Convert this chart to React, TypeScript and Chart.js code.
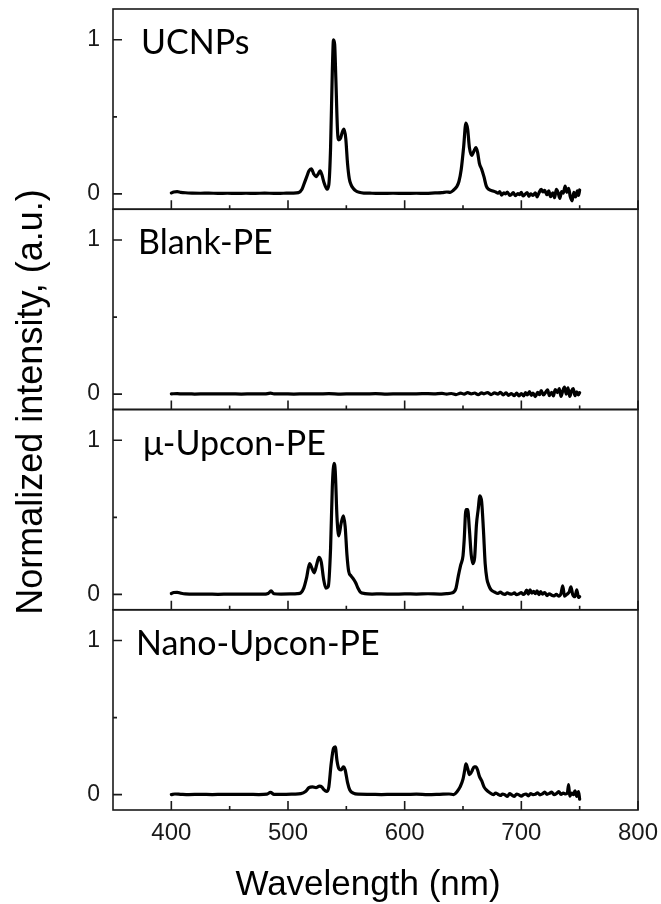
import React, { useEffect, useRef } from "react";
import { Chart, registerables } from "chart.js";

Chart.register(...registerables);

// ---------- data ----------
const panelNames = ["UCNPs", "Blank-PE", "μ-Upcon-PE", "Nano-Upcon-PE"];
const xMajorTicks = [400, 500, 600, 700, 800];
const xMinorTicks = [450, 550, 650, 750];
const yMajorTicks = [0, 1];
const yMinorTicks = [0.5];
const xTitle = "Wavelength (nm)";
const yTitle = "Normalized intensity, (a.u.)";

const ucnps: [number, number][] = [
  [400, 0.006], [402, 0.012], [405, 0.014], [408, 0.01], [412, 0.007], [418, 0.005], [425, 0.004],
  [432, 0.005], [440, 0.003], [448, 0.004], [456, 0.003], [464, 0.004], [472, 0.003], [480, 0.005],
  [488, 0.003], [496, 0.004], [504, 0.005], [509, 0.008], [512, 0.03], [514, 0.07], [516, 0.11],
  [518, 0.15], [520, 0.162], [522, 0.13], [524, 0.112], [526, 0.13], [527.5, 0.15], [529, 0.125],
  [531, 0.07], [533.5, 0.03], [535, 0.06], [536.5, 0.3], [538, 0.8], [539, 1.0], [540, 0.97],
  [541, 0.75], [542.5, 0.4], [543.5, 0.35], [545, 0.36], [546.5, 0.4], [548, 0.42], [549.5, 0.36],
  [551, 0.2], [552.5, 0.1], [554, 0.06], [556, 0.035], [558, 0.02], [561, 0.01], [565, 0.005],
  [572, 0.004], [580, 0.003], [590, 0.004], [600, 0.003], [610, 0.004], [618, 0.003], [626, 0.006],
  [632, 0.008], [636, 0.012], [639, 0.01], [642, 0.025], [644.5, 0.045], [646.5, 0.08], [648.5, 0.16],
  [650.5, 0.3], [652.5, 0.46], [654, 0.42], [655.5, 0.3], [657.5, 0.25], [659.5, 0.28], [661, 0.3],
  [662.5, 0.27], [664, 0.2], [666, 0.16], [668, 0.11], [670, 0.05], [672, 0.03], [675, 0.02],
  [678, 0.012], [680, 0.004], [681.5, 0.015], [683, -0.008], [685, 0.006], [686.5, 0.0], [688, 0.012],
  [690, -0.01], [691.5, -0.004], [693, 0.008], [695, -0.012], [697, 0.002], [698.5, -0.006], [700, 0.01],
  [701.5, -0.014], [703, -0.004], [705, 0.008], [706.5, -0.016], [708, 0.0], [710, -0.01], [712, 0.006],
  [713.5, -0.02], [715, 0.004], [717, 0.03], [718.5, 0.012], [720, 0.022], [722, -0.006], [723.5, 0.02],
  [725, -0.018], [727, 0.006], [728.5, -0.025], [730, 0.03], [731.5, 0.008], [733, -0.03], [734.5, 0.015],
  [736, 0.005], [737.5, 0.05], [739, 0.01], [740.5, 0.035], [742, -0.02], [743.5, -0.045], [745, 0.01],
  [746.5, -0.02], [748, 0.02], [749, -0.01], [750, 0.025],
];

const blankPE: [number, number][] = [
  [400, 0.002], [405, 0.003], [410, 0.001], [415, 0.002], [420, 0.0], [430, 0.002], [440, 0.001],
  [450, 0.002], [460, 0.0], [470, 0.002], [480, 0.001], [485, 0.006], [488, 0.001], [495, 0.002],
  [505, 0.0], [515, 0.002], [525, 0.001], [535, 0.003], [545, 0.0], [555, 0.002], [565, 0.001],
  [575, 0.003], [585, 0.0], [595, 0.002], [605, 0.001], [615, 0.003], [625, 0.002], [632, 0.005],
  [636, 0.0], [640, 0.004], [644, -0.003], [648, 0.006], [651, 0.0], [654, 0.009], [657, 0.002],
  [660, 0.007], [663, -0.004], [666, 0.008], [668, 0.002], [671, 0.01], [674, -0.003], [677, 0.008],
  [680, 0.0], [682, 0.012], [684.5, -0.005], [687, 0.008], [689, -0.008], [691.5, 0.004], [694, -0.01],
  [696, 0.006], [698, -0.012], [700, 0.004], [702, -0.012], [703.5, 0.01], [705, -0.006], [707, 0.016],
  [708.5, -0.008], [710, 0.006], [712, -0.016], [714, 0.012], [715.5, -0.004], [717, 0.022],
  [719, -0.006], [721, 0.014], [722.5, 0.028], [724, -0.01], [726, 0.012], [727.5, -0.012], [729, 0.03],
  [731, 0.01], [732.5, 0.035], [734, -0.015], [735.5, 0.02], [737, 0.045], [738.5, 0.0], [740, 0.04],
  [741.5, -0.015], [743, 0.02], [744.5, 0.035], [746, -0.01], [747.5, 0.015], [749, -0.005], [750, 0.01],
];

const microUpconPE: [number, number][] = [
  [400, 0.005], [402, 0.012], [405, 0.013], [408, 0.008], [412, 0.003], [420, 0.001], [430, 0.002],
  [440, 0.0], [450, 0.002], [460, 0.001], [470, 0.002], [478, 0.001], [483, 0.006], [485.5, 0.022],
  [488, 0.004], [494, 0.002], [502, 0.003], [508, 0.005], [511, 0.01], [513.5, 0.04], [516, 0.11],
  [518.5, 0.2], [520.5, 0.17], [522.5, 0.14], [524.5, 0.19], [526.5, 0.24], [528.5, 0.21],
  [530.5, 0.1], [532.5, 0.04], [534.5, 0.05], [536.5, 0.3], [538, 0.7], [539.5, 0.85], [540.5, 0.8],
  [542, 0.5], [543.5, 0.38], [545.5, 0.46], [547.5, 0.51], [549, 0.44], [550.5, 0.26], [552, 0.15],
  [554, 0.12], [556, 0.1], [558, 0.075], [560, 0.04], [562, 0.015], [566, 0.005], [572, 0.002],
  [580, 0.003], [590, 0.001], [600, 0.003], [610, 0.002], [620, 0.004], [630, 0.002], [636, 0.005],
  [641, 0.01], [644, 0.04], [646, 0.12], [648, 0.19], [650, 0.25], [651, 0.35], [652.5, 0.55],
  [654, 0.55], [655.5, 0.42], [657, 0.26], [658.5, 0.2], [660, 0.24], [661.5, 0.45], [663, 0.55],
  [664.5, 0.64], [666, 0.6], [667.5, 0.42], [669, 0.2], [670.5, 0.1], [672, 0.06], [674, 0.03],
  [677, 0.015], [680, 0.006], [682, 0.014], [684, 0.004], [686, 0.0], [688, 0.01], [690, 0.003],
  [692, 0.002], [694, 0.009], [696, -0.002], [698, 0.004], [700, 0.012], [701.5, 0.0], [703, 0.006],
  [704.5, 0.028], [706, 0.002], [707.5, 0.03], [709, 0.008], [710.5, 0.02], [712, 0.004], [713.5, 0.022],
  [715, -0.002], [716.5, 0.018], [718, 0.002], [720, 0.012], [722, -0.008], [724, 0.004], [726, -0.006],
  [728, -0.01], [730, 0.0], [732, -0.012], [734, 0.006], [735.5, 0.055], [737, -0.012], [739, 0.0],
  [741, 0.015], [742.5, 0.048], [744, 0.0], [746, -0.015], [747.5, 0.03], [749, -0.02], [750, -0.015],
];

const nanoUpconPE: [number, number][] = [
  [400, 0.0], [403, 0.004], [408, 0.002], [415, 0.0], [425, 0.002], [435, 0.0], [445, 0.002],
  [455, 0.001], [465, 0.002], [475, 0.0], [482, 0.003], [485, 0.014], [488, 0.002], [495, 0.001],
  [505, 0.003], [511, 0.006], [515, 0.02], [518, 0.045], [521, 0.05], [524, 0.045], [527, 0.055],
  [529, 0.05], [531, 0.03], [533, 0.02], [535, 0.05], [537, 0.2], [539, 0.3], [540.5, 0.31],
  [542, 0.22], [543.5, 0.17], [545.5, 0.16], [547.5, 0.18], [549, 0.16], [551, 0.08], [553, 0.03],
  [556, 0.01], [560, 0.003], [570, 0.002], [580, 0.0], [590, 0.002], [600, 0.001], [610, 0.003],
  [620, 0.0], [630, 0.002], [638, 0.004], [642, 0.0], [645, 0.02], [647.5, 0.05], [650, 0.1],
  [651.5, 0.16], [652.5, 0.2], [654, 0.17], [655.5, 0.13], [657.5, 0.15], [659.5, 0.18], [661, 0.18],
  [662.5, 0.16], [664, 0.12], [666, 0.09], [668, 0.05], [670, 0.03], [673, 0.012], [676, 0.0],
  [678, 0.01], [680, 0.002], [682, -0.006], [684, 0.004], [686, -0.002], [688, -0.012], [690, 0.006],
  [692, -0.004], [694, -0.012], [696, 0.004], [698, -0.002], [700, -0.01], [702, 0.0], [704, 0.004],
  [706, -0.008], [708, 0.006], [710, 0.0], [712, 0.002], [714, 0.012], [716, -0.002], [718, 0.004],
  [720, 0.016], [722, 0.002], [724, 0.008], [726, 0.016], [728, 0.0], [730, 0.006], [732, 0.02],
  [734, 0.002], [736, 0.01], [738, 0.004], [739.5, 0.012], [740.5, 0.065], [741.5, -0.01], [743, 0.01],
  [744.5, 0.0], [746, 0.025], [747.5, -0.012], [749, 0.02], [750, -0.03],
];

const seriesList = [ucnps, blankPE, microUpconPE, nanoUpconPE];
const panelIds = ["y1", "y2", "y3", "y4"];
const labelOffsets = [28, 25, 30, 23];

const W = 661;
const H = 904;
const AXIS_FONT = "'Liberation Sans', Arial, sans-serif";
const LABEL_FONT = "Lato, 'Open Sans', sans-serif";

const framePlugin = {
  id: "panelFrames",
  afterDatasetsDraw(chart: any) {
    const { ctx, chartArea } = chart;
    const xs = chart.scales.x;
    const left = chartArea.left;
    const right = chartArea.right;
    ctx.save();
    ctx.strokeStyle = "#1a1a1a";
    ctx.lineWidth = 1.6;
    panelIds.forEach((id, i) => {
      const ys = chart.scales[id];
      ctx.strokeRect(left, ys.top, right - left, ys.bottom - ys.top);
      ctx.beginPath();
      yMajorTicks.forEach((v) => {
        const py = ys.getPixelForValue(v);
        ctx.moveTo(left, py);
        ctx.lineTo(left + 9, py);
      });
      yMinorTicks.forEach((v) => {
        const py = ys.getPixelForValue(v);
        ctx.moveTo(left, py);
        ctx.lineTo(left + 4, py);
      });
      xMajorTicks.forEach((v) => {
        const px = xs.getPixelForValue(v);
        ctx.moveTo(px, ys.bottom);
        ctx.lineTo(px, ys.bottom - 9);
      });
      xMinorTicks.forEach((v) => {
        const px = xs.getPixelForValue(v);
        ctx.moveTo(px, ys.bottom);
        ctx.lineTo(px, ys.bottom - 4);
      });
      ctx.stroke();

      ctx.fillStyle = "#000";
      ctx.font = `34px ${LABEL_FONT}`;
      ctx.textAlign = "left";
      ctx.textBaseline = "alphabetic";
      ctx.fillText(panelNames[i], left + labelOffsets[i], ys.top + 45);
    });

    // axis titles
    ctx.fillStyle = "#000";
    ctx.font = `35px ${AXIS_FONT}`;
    ctx.textAlign = "center";
    ctx.textBaseline = "alphabetic";
    ctx.fillText(xTitle, 368, 895);
    ctx.font = `36px ${AXIS_FONT}`;
    ctx.save();
    ctx.translate(42, 402);
    ctx.rotate(-Math.PI / 2);
    ctx.fillText(yTitle, 0, 0);
    ctx.restore();
    ctx.restore();
  },
};

function makeYScale() {
  return {
    type: "linear",
    position: "left",
    stack: "panels",
    stackWeight: 1,
    min: -0.1,
    max: 1.2,
    grid: { display: false, drawTicks: false },
    border: { display: false },
    afterBuildTicks: (s: any) => {
      s.ticks = yMajorTicks.map((v) => ({ value: v }));
    },
    afterFit: (s: any) => {
      s.width = 113;
      s.paddingTop = 0;
      s.paddingBottom = 0;
    },
    ticks: {
      padding: 13,
      color: "#1a1a1a",
      font: { family: AXIS_FONT, size: 23 },
      callback: (v: any) => String(v),
    },
  };
}

export default function App() {
  const ref = useRef<HTMLCanvasElement | null>(null);
  useEffect(() => {
    if (!ref.current) return;
    const datasets = seriesList.map((s, i) => ({
      label: panelNames[i],
      data: s.map(([x, y]) => ({ x, y })),
      yAxisID: panelIds[i],
      borderColor: "#000",
      borderWidth: 3.2,
      borderJoinStyle: "round",
      borderCapStyle: "round",
      pointRadius: 0,
      cubicInterpolationMode: "monotone",
      fill: false,
    }));
    const chart = new Chart(ref.current, {
      type: "line",
      data: { datasets },
      plugins: [framePlugin],
      options: {
        responsive: false,
        animation: false,
        devicePixelRatio: 1,
        layout: { padding: { top: 9, right: 23, left: 0, bottom: 0 } },
        plugins: { legend: { display: false }, tooltip: { enabled: false } },
        scales: {
          x: {
            type: "linear",
            position: "bottom",
            min: 350,
            max: 800,
            grid: { display: false, drawTicks: false },
            border: { display: false },
            afterBuildTicks: (s: any) => {
              s.ticks = xMajorTicks.map((v) => ({ value: v }));
            },
            afterFit: (s: any) => {
              s.height = 94;
              s.paddingLeft = 0;
              s.paddingRight = 0;
            },
            ticks: {
              padding: 9,
              color: "#1a1a1a",
              maxRotation: 0,
              autoSkip: false,
              font: { family: AXIS_FONT, size: 24 },
              callback: (v: any) => String(v),
            },
          },
          y4: makeYScale(),
          y3: makeYScale(),
          y2: makeYScale(),
          y1: makeYScale(),
        } as any,
      },
    } as any);
    return () => chart.destroy();
  }, []);
  return (
    <div style={{ position: "fixed", left: 0, top: 0, width: W, height: H, background: "#fff" }}>
      <canvas ref={ref} width={W} height={H} style={{ display: "block", width: W, height: H }} />
    </div>
  );
}
